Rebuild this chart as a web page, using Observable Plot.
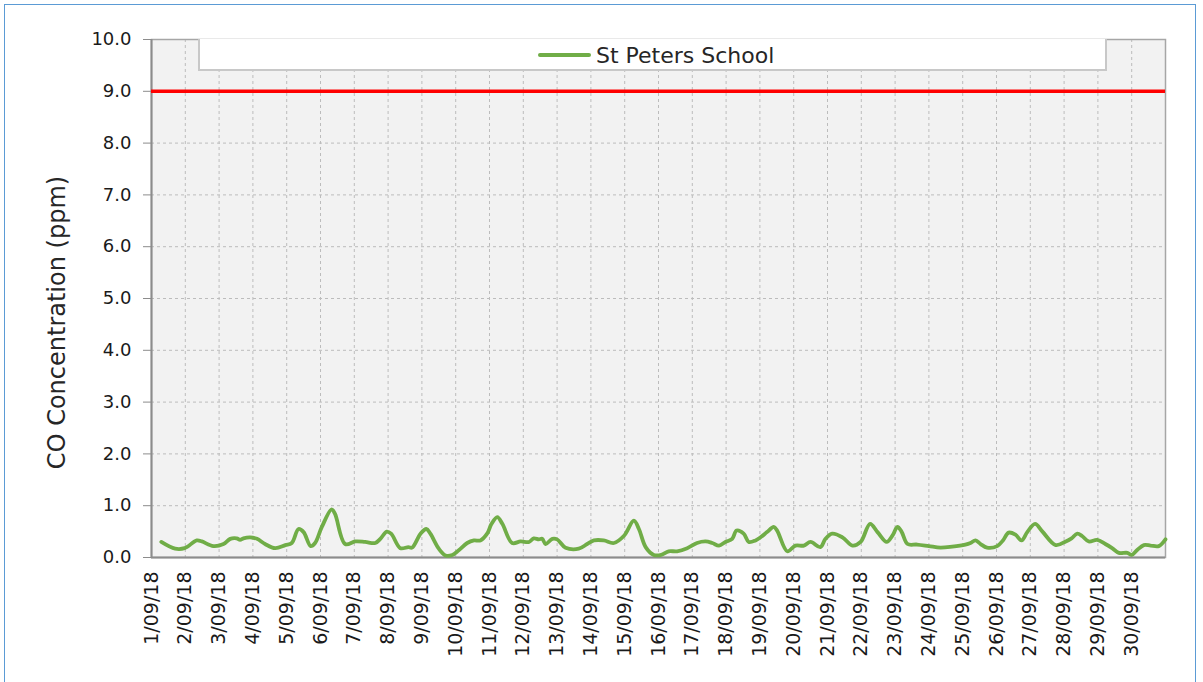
<!DOCTYPE html>
<html>
<head>
<meta charset="utf-8">
<script src="https://cdn.jsdelivr.net/npm/d3@7"></script>
<script src="https://cdn.jsdelivr.net/npm/@observablehq/plot@0.6"></script>
<style>
  html, body { margin: 0; padding: 0; background: #fff; }
  #wrap { position: relative; width: 1203px; height: 682px; overflow: hidden; font-family: "DejaVu Sans", sans-serif; }
  #frame { position: absolute; left: 4px; top: 4px; width: 1190px; height: 700px; border: 1.5px solid #5b9bd5; pointer-events: none; }
  #legend { position: absolute; left: 198px; top: 39px; width: 905px; height: 30px; background: #fff; border: 2px solid #c8c8c8; border-top: none; box-sizing: content-box; }
  #legend .item { position: absolute; left: 338px; top: 2px; height: 28px; display: flex; align-items: center; font-size: 22px; color: #262626; }
  #legend .swatch { display: inline-block; width: 53px; height: 4px; background: #70ad47; border-radius: 2px; margin-right: 5px; }
  #chart svg { position: absolute; left: 0; top: 0; }
</style>
</head>
<body>
<div id="wrap">
  <div id="chart"></div>
  <div id="legend"><div class="item"><span class="swatch"></span><span id="seriesName"></span></div></div>
  <div id="frame"></div>
</div>
<script>
// Day offsets from 1 Sep 2018 00:00 (fractional days) and CO concentration (ppm)
const seriesName = "St Peters School";
const dayOffsets = [0.29,0.70,0.98,1.34,1.49,1.83,2.13,2.33,2.52,2.62,2.72,2.92,3.12,3.36,3.66,3.96,4.15,4.35,4.50,4.71,4.84,5.04,5.33,5.43,5.73,6.03,6.32,6.62,6.77,6.96,7.09,7.36,7.60,7.71,7.96,8.13,8.25,8.50,8.70,8.90,9.09,9.34,9.54,9.73,9.93,10.06,10.23,10.38,10.67,10.92,11.17,11.31,11.46,11.56,11.66,11.86,12.00,12.25,12.64,12.89,13.09,13.38,13.68,13.98,14.27,14.42,14.62,14.86,15.08,15.30,15.55,15.85,16.14,16.39,16.59,16.79,16.98,17.18,17.31,17.52,17.67,17.87,18.02,18.21,18.41,18.51,18.81,19.05,19.30,19.50,19.79,19.94,20.14,20.44,20.74,20.98,21.26,21.48,21.75,21.92,22.07,22.19,22.37,22.65,23.00,23.34,23.69,24.08,24.23,24.38,24.53,24.72,25.02,25.19,25.36,25.56,25.74,25.91,26.14,26.36,26.75,27.05,27.22,27.39,27.54,27.73,27.98,28.22,28.42,28.62,28.87,29.00,29.17,29.36,29.56,29.80,30.00];
const coValues = [0.30,0.17,0.18,0.33,0.31,0.22,0.26,0.36,0.37,0.34,0.37,0.39,0.36,0.26,0.18,0.24,0.28,0.55,0.49,0.22,0.28,0.59,0.93,0.84,0.26,0.31,0.30,0.28,0.36,0.50,0.46,0.18,0.20,0.19,0.46,0.55,0.46,0.17,0.04,0.05,0.14,0.28,0.33,0.33,0.46,0.65,0.78,0.65,0.28,0.31,0.30,0.37,0.35,0.36,0.26,0.36,0.35,0.19,0.17,0.26,0.33,0.33,0.28,0.42,0.71,0.55,0.20,0.05,0.05,0.12,0.12,0.18,0.28,0.31,0.28,0.23,0.30,0.36,0.52,0.46,0.30,0.33,0.39,0.49,0.59,0.52,0.12,0.23,0.23,0.30,0.20,0.36,0.46,0.39,0.23,0.30,0.65,0.49,0.30,0.42,0.59,0.50,0.26,0.25,0.22,0.19,0.21,0.25,0.28,0.33,0.26,0.19,0.22,0.33,0.48,0.44,0.33,0.49,0.65,0.50,0.24,0.31,0.37,0.46,0.41,0.31,0.34,0.26,0.18,0.09,0.09,0.05,0.15,0.24,0.23,0.22,0.35];
const standardLimit = 9.0;
const yTicks = [0,1,2,3,4,5,6,7,8,9,10];
const yTitle = "CO Concentration (ppm)";

const start = new Date(2018, 8, 1);
const toDate = d => new Date(start.getTime() + d * 86400000);
const data = dayOffsets.map((d, i) => ({date: toDate(d), co: coValues[i]}));
const dayTicks = d3.range(0, 30).map(i => new Date(2018, 8, 1 + i));
const gridDays = d3.range(0, 31).map(i => new Date(2018, 8, 1 + i));
const fmtDay = d => `${d.getDate()}/09/18`;

document.getElementById("seriesName").textContent = seriesName;

const chart = Plot.plot({
  width: 1203,
  height: 682,
  marginLeft: 151,
  marginRight: 38,
  marginTop: 39,
  marginBottom: 125,
  style: { fontFamily: "'DejaVu Sans', sans-serif", fontSize: "18px", color: "#262626", background: "transparent" },
  x: { type: "utc", domain: [start, new Date(2018, 9, 1)] },
  y: { domain: [0, 10] },
  marks: [
    Plot.frame({ fill: "#f2f2f2", stroke: "none" }),
    Plot.gridX(gridDays, { stroke: "#bcbcbc", strokeOpacity: 1, strokeDasharray: "3,3", strokeWidth: 1 }),
    Plot.gridY(yTicks, { stroke: "#bcbcbc", strokeOpacity: 1, strokeDasharray: "3,3", strokeWidth: 1 }),
    Plot.frame({ stroke: "#a6a6a6", strokeWidth: 1.5 }),
    Plot.axisY(yTicks, { tickFormat: d => d.toFixed(1), tickSize: 8, tickPadding: 12, stroke: "#8c8c8c", label: null, fontSize: 18, fill: "#1a1a1a" }),
    Plot.axisX(dayTicks, { tickFormat: fmtDay, tickSize: 0, tickPadding: 14, tickRotate: -90, label: null, fontSize: 19, fill: "#1a1a1a" }),
    Plot.ruleX([start], { stroke: "#8c8c8c", strokeWidth: 2 }),
    Plot.ruleY([0], { stroke: "#8c8c8c", strokeWidth: 2 }),
    Plot.ruleY([standardLimit], { stroke: "#ff0000", strokeWidth: 3.5 }),
    Plot.line(data, { x: "date", y: "co", stroke: "#70ad47", strokeWidth: 3.8, curve: "catmull-rom" }),
    Plot.text([yTitle], { frameAnchor: "left", textAnchor: "middle", rotate: -90, dx: -94, dy: 24, fontSize: 24, fill: "#262626" })
  ]
});
document.getElementById("chart").appendChild(chart);
</script>
</body>
</html>
